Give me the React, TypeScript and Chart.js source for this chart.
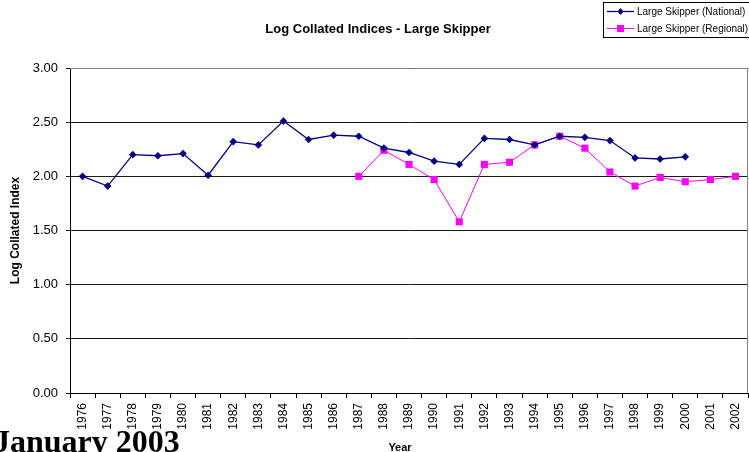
import React, { useEffect, useRef } from "react";
import { Chart, registerables } from "chart.js";

Chart.register(...registerables);

const years: string[] = [
  "1976", "1977", "1978", "1979", "1980", "1981", "1982", "1983", "1984",
  "1985", "1986", "1987", "1988", "1989", "1990", "1991", "1992", "1993",
  "1994", "1995", "1996", "1997", "1998", "1999", "2000", "2001", "2002",
];

const national: (number | null)[] = [
  2.0, 1.91, 2.2, 2.19, 2.21, 2.01, 2.32, 2.29, 2.51,
  2.34, 2.38, 2.37, 2.26, 2.22, 2.14, 2.11, 2.35, 2.34,
  2.29, 2.37, 2.36, 2.33, 2.17, 2.16, 2.18, null, null,
];

const regional: (number | null)[] = [
  null, null, null, null, null, null, null, null, null,
  null, null, 2.0, 2.24, 2.11, 1.97, 1.58, 2.11, 2.13,
  2.29, 2.37, 2.26, 2.04, 1.91, 1.99, 1.95, 1.97, 2.0,
];

const yTicks: number[] = [0, 0.5, 1, 1.5, 2, 2.5, 3];

const FONT = 'Arial, "Liberation Sans", sans-serif';
const CANVAS_W = 755;

export default function App() {
  const ref = useRef<HTMLCanvasElement | null>(null);

  useEffect(() => {
    if (!ref.current) return;
    const decor = {
      id: "decor",
      beforeDatasetsDraw(chart: any) {
        const { ctx, chartArea } = chart;
        ctx.save();
        ctx.strokeStyle = "#808080";
        ctx.lineWidth = 1;
        ctx.beginPath();
        ctx.moveTo(chartArea.left, chartArea.top + 0.5);
        ctx.lineTo(chartArea.right - 0.5, chartArea.top + 0.5);
        ctx.lineTo(chartArea.right - 0.5, chartArea.bottom);
        ctx.stroke();
        ctx.restore();
      },
      afterDraw(chart: any) {
        const { ctx, chartArea } = chart;
        ctx.save();
        ctx.fillStyle = "#000";
        // title
        ctx.font = `bold 13px ${FONT}`;
        ctx.textAlign = "center";
        ctx.textBaseline = "alphabetic";
        ctx.fillText("Log Collated Indices - Large Skipper", 378, 33);
        // y axis title
        ctx.save();
        ctx.translate(19, (chartArea.top + chartArea.bottom) / 2);
        ctx.rotate(-Math.PI / 2);
        ctx.font = `bold 12px ${FONT}`;
        ctx.textAlign = "center";
        ctx.textBaseline = "alphabetic";
        ctx.fillText("Log Collated Index", 0, 0);
        ctx.restore();
        // x axis title
        ctx.font = `bold 11px ${FONT}`;
        ctx.textAlign = "center";
        ctx.textBaseline = "top";
        ctx.fillText("Year", 400, 442);
        // legend
        ctx.strokeStyle = "#000";
        ctx.lineWidth = 1;
        ctx.strokeRect(603.5, 2.5, 150, 35);
        const items = [
          { label: "Large Skipper (National)", color: "#000080", y: 11, shape: "diamond" },
          { label: "Large Skipper (Regional)", color: "#FF00FF", y: 28, shape: "square" },
        ];
        ctx.font = `10px ${FONT}`;
        ctx.textAlign = "left";
        ctx.textBaseline = "middle";
        for (const it of items) {
          ctx.strokeStyle = it.color;
          ctx.lineWidth = it.shape === "diamond" ? 1.3 : 1;
          ctx.beginPath();
          ctx.moveTo(607, it.y + 0.5);
          ctx.lineTo(634, it.y + 0.5);
          ctx.stroke();
          ctx.fillStyle = it.color;
          if (it.shape === "diamond") {
            ctx.beginPath();
            ctx.moveTo(620.5, it.y - 3);
            ctx.lineTo(623.5, it.y + 0.5);
            ctx.lineTo(620.5, it.y + 4);
            ctx.lineTo(617.5, it.y + 0.5);
            ctx.closePath();
            ctx.fill();
          } else {
            ctx.fillRect(617, it.y - 3, 7, 7);
          }
          ctx.fillStyle = "#000";
          ctx.fillText(it.label, 637, it.y + 1);
        }
        ctx.restore();
      },
    };

    const chart = new Chart(ref.current, {
      type: "line",
      data: {
        labels: years,
        datasets: [
          {
            label: "Large Skipper (National)",
            data: national,
            borderColor: "#000080",
            backgroundColor: "#000080",
            borderWidth: 1.3,
            pointStyle: "rectRot",
            pointRadius: 3.8,
            pointBorderWidth: 0,
            tension: 0,
            spanGaps: false,
          },
          {
            label: "Large Skipper (Regional)",
            data: regional,
            borderColor: "#FF00FF",
            backgroundColor: "#FF00FF",
            borderWidth: 1,
            pointStyle: "rect",
            pointRadius: 5,
            pointBorderWidth: 0,
            tension: 0,
            spanGaps: false,
          },
        ],
      },
      options: {
        responsive: false,
        animation: false,
        devicePixelRatio: 1,
        layout: { padding: { top: 68, right: 1, left: 0, bottom: 0 } },
        plugins: {
          legend: { display: false },
          title: { display: false },
          tooltip: { enabled: false },
        },
        scales: {
          x: {
            type: "category",
            offset: true,
            grid: {
              offset: true,
              drawOnChartArea: false,
              drawTicks: true,
              tickLength: 5,
              color: "#000",
            },
            border: { color: "#000", width: 1 },
            ticks: {
              autoSkip: false,
              minRotation: 90,
              maxRotation: 90,
              padding: 5,
              color: "#000",
              font: { family: FONT, size: 12 },
            },
            afterFit(scale: any) {
              scale.height = 59;
            },
          },
          y: {
            min: 0,
            max: 3,
            afterBuildTicks(scale: any) {
              scale.ticks = yTicks.map((v) => ({ value: v }));
            },
            grid: {
              color: "#1a1a1a",
              drawTicks: true,
              tickLength: 4,
            },
            border: { color: "#000", width: 1 },
            ticks: {
              padding: 8,
              color: "#000",
              font: { family: FONT, size: 13 },
              callback: (v: any) => Number(v).toFixed(2),
            },
            afterFit(scale: any) {
              scale.width = 70;
            },
          },
        },
      },
      plugins: [decor],
    } as any);

    return () => chart.destroy();
  }, []);

  return (
    <div style={{ position: "absolute", left: 0, top: 0, width: 749, height: 452, overflow: "hidden", background: "#fff" }}>
      <canvas ref={ref} width={CANVAS_W} height={452} style={{ position: "absolute", left: 0, top: 0, width: CANVAS_W, height: 452 }} />
      <div
        style={{
          position: "absolute",
          left: -6,
          top: 425,
          fontFamily: '"Times New Roman", "Liberation Serif", serif',
          fontWeight: "bold",
          fontSize: 32,
          lineHeight: 1,
          whiteSpace: "nowrap",
          color: "#000",
        }}
      >
        January 2003
      </div>
    </div>
  );
}
